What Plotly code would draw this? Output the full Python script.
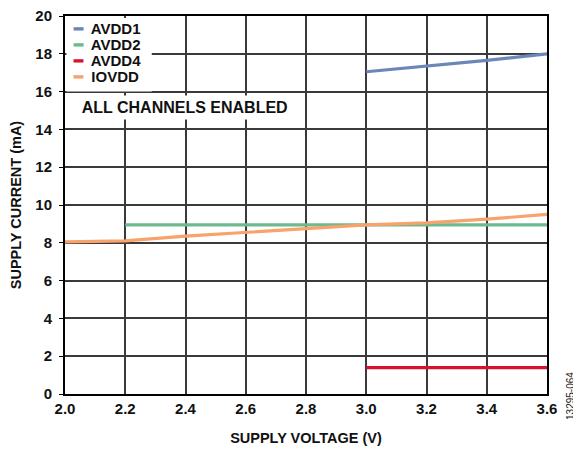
import plotly.graph_objects as go

# supply voltage (V)
v_full = [2.0, 2.2, 2.4, 2.6, 2.8, 3.0, 3.2, 3.4, 3.6]
v_avdd2 = [2.2, 2.4, 2.6, 2.8, 3.0, 3.2, 3.4, 3.6]
v_high = [3.0, 3.2, 3.4, 3.6]

# supply current (mA)
avdd1 = [17.05, 17.35, 17.65, 18.0]
avdd2 = [8.95, 8.95, 8.95, 8.95, 8.95, 8.95, 8.95, 8.95]
avdd4 = [1.4, 1.4, 1.4, 1.4]
iovdd = [8.05, 8.1, 8.35, 8.55, 8.75, 8.95, 9.05, 9.25, 9.5]

FONT = "Liberation Sans, Arial, sans-serif"

series = [
    ("AVDD1", v_high, avdd1, "#6b86b9"),
    ("AVDD2", v_avdd2, avdd2, "#6cba8e"),
    ("AVDD4", v_high, avdd4, "#d7122f"),
    ("IOVDD", v_full, iovdd, "#f8a26c"),
]

fig = go.Figure()
for name, x, y, color in series:
    fig.add_trace(
        go.Scatter(x=x, y=y, name=name, mode="lines",
                   line=dict(color=color, width=3.2))
    )

# compact legend: the reference packs its entries tighter than plotly's legend can
fig.add_shape(type="rect", xref="paper", yref="paper", x0=0.003, x1=0.18,
              y0=0.80, y1=0.995, fillcolor="white", line_width=0, layer="above")
legend_y = [0.966, 0.924, 0.882, 0.840]
for (name, _, _, color), ly in zip(series, legend_y):
    fig.add_annotation(
        x=0.012, y=ly, xref="paper", yref="paper", xanchor="left", yanchor="middle",
        text=f"<span style='color:{color}'>━</span>  {name}", showarrow=False,
        font=dict(family=FONT, size=15, color="#111", weight="bold"),
    )

fig.add_annotation(
    x=0.0, y=0.757, xref="paper", yref="paper", xanchor="left", yanchor="middle",
    text="   ALL CHANNELS ENABLED  ", showarrow=False, bgcolor="white", borderpad=3,
    font=dict(family=FONT, size=16, color="#111", weight="bold"),
)
fig.add_annotation(
    x=1.05, y=-0.005, xref="paper", yref="paper", xanchor="center", yanchor="middle",
    text="13295-064", textangle=-90, showarrow=False,
    font=dict(family=FONT, size=10, color="#222"),
)

# page body adds ~7px offset, so the figure is sized to land the plot where the reference has it
fig.update_layout(
    width=574, height=443,
    margin=dict(l=57, r=35, t=8, b=57),
    paper_bgcolor="white", plot_bgcolor="white",
    font=dict(family=FONT, color="#111"),
    showlegend=False,
)
fig.update_xaxes(
    range=[2.0, 3.6], dtick=0.2, tick0=2.0, tickformat=".1f",
    showgrid=True, gridcolor="#3a3a3a", gridwidth=1.5,
    showline=True, linecolor="black", linewidth=2, mirror=True,
    ticks="", zeroline=False, automargin=False, ticklabeloverflow="allow",
    tickfont=dict(family=FONT, size=15, weight="bold"),
    title=dict(text="SUPPLY VOLTAGE (V)", standoff=17,
               font=dict(family=FONT, size=14.5, weight="bold")),
)
fig.update_yaxes(
    range=[0, 20], dtick=2,
    showgrid=True, gridcolor="#3a3a3a", gridwidth=1.5,
    showline=True, linecolor="black", linewidth=2, mirror=True,
    ticks="outside", ticklen=4, tickcolor="black", zeroline=False,
    automargin=False, ticklabelstandoff=4, ticklabeloverflow="allow",
    tickfont=dict(family=FONT, size=15, weight="bold"),
    title=dict(text="SUPPLY CURRENT (mA)", standoff=10,
               font=dict(family=FONT, size=14.5, weight="bold")),
)

fig.write_html("out.html")
